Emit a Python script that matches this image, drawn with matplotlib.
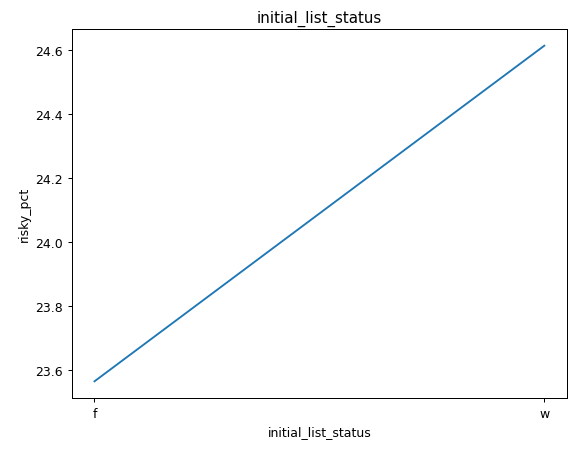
import matplotlib
matplotlib.use('Agg')
import matplotlib.pyplot as plt

categories = ['f', 'w']
risky_pct = [23.565, 24.612]

fig = plt.figure(figsize=(6.4, 5.033), dpi=90)
ax = fig.add_axes([0.125, 0.119, 0.859, 0.815])
ax.plot(categories, risky_pct)
ax.set_title('initial_list_status')
ax.set_xlabel('initial_list_status')
ax.set_ylabel('risky_pct')
fig.savefig('out.png', dpi=90)
